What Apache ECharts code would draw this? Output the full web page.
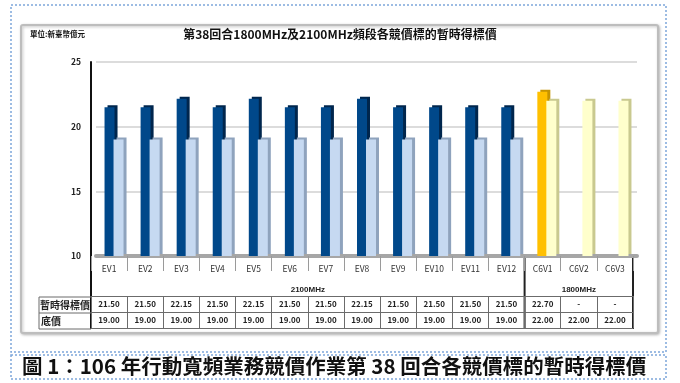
<!DOCTYPE html>
<html><head><meta charset="utf-8">
<script src="https://cdn.jsdelivr.net/npm/echarts@6/dist/echarts.min.js"></script>
<style>html,body{margin:0;padding:0;background:#fff}#c{width:680px;height:383px}</style>
</head><body><div id="c"></div>
<script>
const categories = ['EV1','EV2','EV3','EV4','EV5','EV6','EV7','EV8','EV9','EV10','EV11','EV12','C6V1','C6V2','C6V3'];
const provisionalPrice = [21.50,21.50,22.15,21.50,22.15,21.50,21.50,22.15,21.50,21.50,21.50,21.50,22.70,null,null];
const reservePrice = [19.00,19.00,19.00,19.00,19.00,19.00,19.00,19.00,19.00,19.00,19.00,19.00,22.00,22.00,22.00];
const bandGroups = [{name:'2100MHz', from:0, to:11},{name:'1800MHz', from:12, to:14}];
const rowLabels = ['暫時得標價','底價'];
const yMin = 10, yMax = 25, yStep = 5;
const titleText = '第38回合1800MHz及2100MHz頻段各競價標的暫時得標價';
const unitText = '單位:新臺幣億元';
const captionText = '圖 1：106 年行動寬頻業務競價作業第 38 回合各競價標的暫時得標價';

const isC6 = i => i >= 12;
const fmt = v => v == null ? '-' : v.toFixed(2);

const chart = echarts.init(document.getElementById('c'), null, {renderer:'canvas'});

const darkData = provisionalPrice.map((v,i)=>({value:v, itemStyle:{
  color: isC6(i) ? '#FFC000' : '#00488A',
  shadowColor: isC6(i) ? '#C79500' : '#00264D', shadowOffsetX:3, shadowOffsetY:-2, shadowBlur:0}}));
const lightData = reservePrice.map((v,i)=>({value:v, itemStyle:{
  color: isC6(i) ? '#FFFFCC' : '#C6D9F1',
  shadowColor: isC6(i) ? '#C9C98F' : '#8FA3BD', shadowOffsetX:3, shadowOffsetY:-2, shadowBlur:0}}));

const tableLine = {color:'#6b6b6b', width:1};
const baseX = (gridIndex, extra) => Object.assign({type:'category', data:categories, gridIndex, position:'bottom',
  axisLine:{show:false}, axisTick:{show:false}, axisLabel:{show:false}, splitLine:{show:false}}, extra);

const staticGraphics = [
  {type:'rect', z:-10, shape:{x:11, y:5, width:655, height:347}, style:{fill:'none', stroke:'#7EA6DA', lineWidth:1.5, lineDash:[2,2]}},
  {type:'rect', z:-10, shape:{x:11, y:355, width:655, height:24}, style:{fill:'none', stroke:'#7EA6DA', lineWidth:1.5, lineDash:[2,2]}},
  {type:'rect', z:-9, shape:{x:21, y:25, width:637, height:308, r:2}, style:{fill:'#fff', stroke:'#BDBDBD', lineWidth:2,
    shadowColor:'rgba(0,0,0,0.25)', shadowBlur:3, shadowOffsetX:1, shadowOffsetY:1}},
  {type:'text', left:'center', top:28, style:{text:titleText, fontSize:12, fontWeight:'bold', fill:'#111',
    fontFamily:'"Noto Sans CJK TC", sans-serif'}},
  {type:'text', x:30, y:30, style:{text:unitText, fontSize:7.5, fontWeight:'bold', fill:'#111',
    fontFamily:'"Noto Sans CJK TC", sans-serif'}},
  {type:'text', x:22, y:356, style:{text:captionText, fontSize:20.5, fontWeight:'bold', fill:'#111',
    fontFamily:'"Noto Sans CJK TC", serif'}}
];

chart.setOption({
  animation:false,
  textStyle:{fontFamily:'"Noto Sans CJK TC", "Liberation Sans", sans-serif'},
  grid:[
    {left:96, right:43, top:62, bottom:127},
    {left:91, right:47, top:62, bottom:127}
  ],
  xAxis:[
    baseX(0, {axisLine:{show:true, lineStyle:{color:'#A6A6A6', width:4}}}),
    baseX(1, {axisTick:{show:true, interval:0, length:15, lineStyle:{color:'#9a9a9a'}},
      axisLabel:{show:true, interval:0, margin:9, fontSize:8.5, color:'#333'}}),
    baseX(1, {offset:40, axisLine:{show:true, lineStyle:tableLine},
      axisTick:{show:true, interval:0, length:16, lineStyle:tableLine},
      axisLabel:{show:true, interval:0, margin:4, fontSize:8, color:'#222', fontWeight:'bold',
        formatter:(v,i)=>fmt(provisionalPrice[i])}}),
    baseX(1, {offset:56, axisLine:{show:true, lineStyle:tableLine},
      axisTick:{show:true, interval:0, length:16, lineStyle:tableLine},
      axisLabel:{show:true, interval:0, margin:4, fontSize:8, color:'#222', fontWeight:'bold',
        formatter:(v,i)=>fmt(reservePrice[i])}}),
    baseX(1, {offset:72, axisLine:{show:true, lineStyle:tableLine}})
  ],
  yAxis:[
    {type:'value', gridIndex:0, min:yMin, max:yMax, interval:yStep,
      axisLine:{show:false}, axisTick:{show:false}, axisLabel:{show:false},
      splitLine:{show:true, lineStyle:{color:'#D0D0D0', width:1.5}}},
    {type:'value', gridIndex:1, min:yMin, max:yMax, interval:yStep,
      axisLine:{show:true, lineStyle:{color:'#111', width:2}}, axisTick:{show:false},
      axisLabel:{margin:10, fontSize:8.5, fontWeight:'bold', color:'#222'},
      splitLine:{show:false}}
  ],
  series:[
    {type:'bar', name:rowLabels[0], xAxisIndex:0, yAxisIndex:0, data:darkData, barWidth:10, barGap:'-10%'},
    {type:'bar', name:rowLabels[1], xAxisIndex:0, yAxisIndex:0, data:lightData, barWidth:10, barGap:'-10%'}
  ],
  graphic: staticGraphics
});

// table extras positioned with the library's own axis scale
function px(i){ return chart.convertToPixel({xAxisIndex:1}, categories[i]); }
const band = px(1) - px(0);
const yRow0 = 297, yRow1 = 313, yRow2 = 329;
const extra = [];
bandGroups.forEach(g=>{
  extra.push({type:'text', x:(px(g.from)+px(g.to))/2, y:290, style:{text:g.name, fontSize:8, fontWeight:'bold',
    fill:'#222', align:'center', verticalAlign:'middle', fontFamily:'"Liberation Sans", sans-serif'}});
});
const sep = (px(11)+px(12))/2, rightEdge = px(14)+band/2, axisX = px(0)-band/2;
extra.push({type:'line', shape:{x1:sep, y1:258, x2:sep, y2:yRow2}, style:{stroke:'#222', lineWidth:2}});
extra.push({type:'line', shape:{x1:rightEdge, y1:258, x2:rightEdge, y2:yRow2}, style:{stroke:'#222', lineWidth:2}});
extra.push({type:'line', shape:{x1:axisX, y1:256, x2:axisX, y2:yRow2}, style:{stroke:'#111', lineWidth:2}});
[yRow0, yRow1, yRow2].forEach(y=>extra.push({type:'line', shape:{x1:39, y1:y, x2:axisX, y2:y}, style:{stroke:'#6b6b6b', lineWidth:1}}));
extra.push({type:'line', shape:{x1:39, y1:yRow0, x2:39, y2:yRow2}, style:{stroke:'#6b6b6b', lineWidth:1}});
extra.push({type:'text', x:40, y:(yRow0+yRow1)/2, style:{text:rowLabels[0], fontSize:10, fontWeight:'bold', fill:'#222',
  verticalAlign:'middle', fontFamily:'"Noto Sans CJK TC", sans-serif'}});
extra.push({type:'text', x:41, y:(yRow1+yRow2)/2, style:{text:rowLabels[1], fontSize:10, fontWeight:'bold', fill:'#222',
  verticalAlign:'middle', fontFamily:'"Noto Sans CJK TC", sans-serif'}});
chart.setOption({graphic: staticGraphics.concat(extra)}, {replaceMerge:['graphic']});
</script></body></html>
